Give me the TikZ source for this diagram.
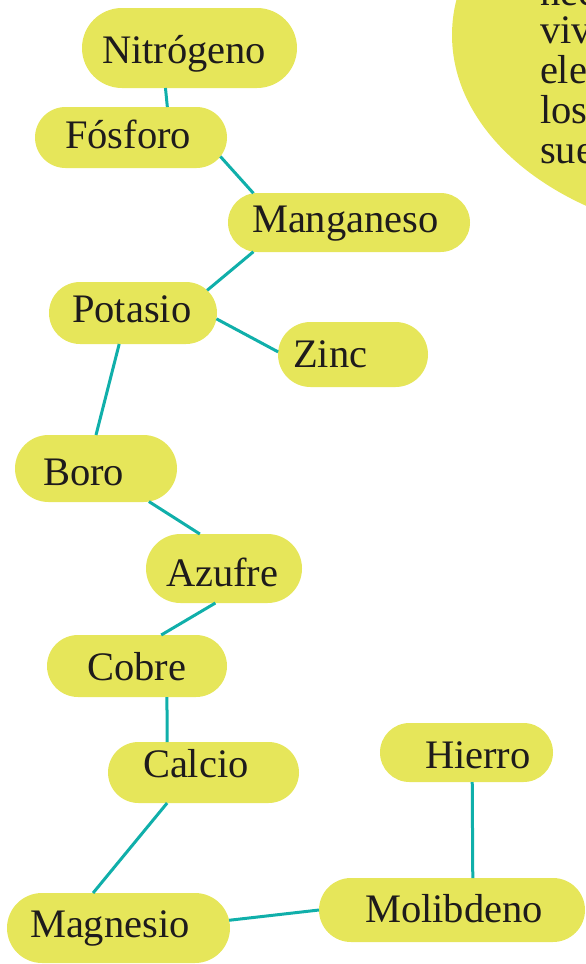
\documentclass[tikz,border=0pt]{standalone}
\usepackage{fontspec}
\setmainfont{Liberation Serif}
\usetikzlibrary{shapes.misc}
\definecolor{pillcol}{RGB}{230,230,90}
\definecolor{linkcol}{RGB}{16,175,170}
\definecolor{inkcol}{RGB}{30,27,28}
\begin{document}
\begin{tikzpicture}[x=1pt,y=-1pt,
  pillbox/.style={rounded rectangle, fill=pillcol, draw=none, inner sep=0pt, outer sep=0pt},
  lbl/.style={anchor=base west, inner sep=0pt, outer sep=0pt, font=\fontsize{40.5}{48}\selectfont, text=inkcol},
  link/.style={draw=linkcol, line width=3pt}]
\useasboundingbox (0,0) rectangle (586,964);
\clip (0,0) rectangle (586,964);
% big blob top right
\fill[pillcol] (752,35) ellipse [x radius=300pt, y radius=205pt];
\node[lbl] (b1) at (540,5) {nec};
\node[lbl] (b2) at (540,43) {vivi};
\node[lbl] (b3) at (540,83) {ele};
\node[lbl] (b4) at (540,123) {los};
\node[lbl] (b5) at (540,163) {sue};
% boxes
\node[pillbox, minimum width=215pt, minimum height=80pt] (nit) at (189.5,48) {};
\node[pillbox, minimum width=192pt, minimum height=61pt] (fos) at (131,137.5) {};
\node[pillbox, minimum width=242pt, minimum height=59pt] (man) at (349,222.5) {};
\node[pillbox, minimum width=168pt, minimum height=62pt] (pot) at (133,313) {};
\node[pillbox, minimum width=150pt, minimum height=65pt] (zin) at (353,354.5) {};
\node[pillbox, minimum width=162pt, minimum height=67pt] (bor) at (96,468.5) {};
\node[pillbox, minimum width=156pt, minimum height=69pt] (azu) at (224,568.5) {};
\node[pillbox, minimum width=180pt, minimum height=62pt] (cob) at (137,666) {};
\node[pillbox, minimum width=191pt, minimum height=61pt] (cal) at (203.5,772.5) {};
\node[pillbox, minimum width=173pt, minimum height=59pt] (hie) at (466.5,752.5) {};
\node[pillbox, minimum width=223pt, minimum height=70pt] (mag) at (118.5,928) {};
\node[pillbox, minimum width=266pt, minimum height=64pt] (mol) at (452,910) {};
% labels
\node[lbl] (tnit) at (102,63) {Nitrógeno};
\node[lbl] (tfos) at (65,148) {Fósforo};
\node[lbl] (tman) at (252,232) {Manganeso};
\node[lbl] (tpot) at (72,322) {Potasio};
\node[lbl] (tzin) at (293,367) {Zinc};
\node[lbl] (tbor) at (43,485) {Boro};
\node[lbl] (tazu) at (166,586) {Azufre};
\node[lbl] (tcob) at (87,680) {Cobre};
\node[lbl] (tcal) at (143,777) {Calcio};
\node[lbl] (thie) at (425,768) {Hierro};
\node[lbl] (tmag) at (30,937) {Magnesio};
\node[lbl] (tmol) at (365,922) {Molibdeno};
% connectors
\draw[link] (nit.-121.5) -- (fos.40.3);
\draw[link] (fos.-12.1) -- (man.163.4);
\draw[link] (man.197.1) -- (pot.17.7);
\draw[link] (pot.-4.3) -- (zin.178);
\draw[link] (pot.-114.3) -- (bor.90);
\draw[link] (bor.-32.6) -- (azu.125.6);
\draw[link] (azu.-104.2) -- (cob.52.5);
\draw[link] (cob.-46.8) -- (cal.140.1);
\draw[link] (cal.-140.1) -- (mag.126.6);
\draw[link] (mag.4.5) -- (mol.180);
\draw[link] (hie.-79.4) -- (mol.57.2);
\end{tikzpicture}
\end{document}
